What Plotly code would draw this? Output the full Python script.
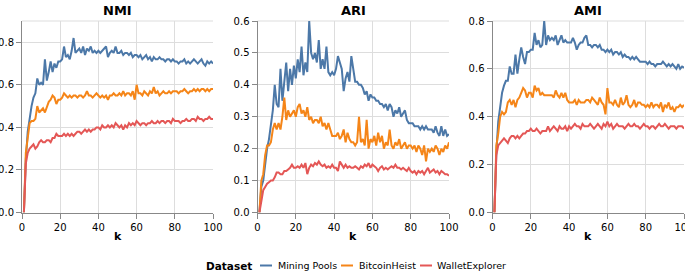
import plotly.graph_objects as go

W, H = 685, 272

k = list(range(1, 101))
datasets = ["Mining Pools", "BitcoinHeist", "WalletExplorer"]
colors = ["#4c78a8", "#f58518", "#e45756"]
metrics = ["NMI", "ARI", "AMI"]

nmi_mining_pools = [
    0.00, 0.25, 0.38, 0.45, 0.50, 0.54, 0.56, 0.63, 0.60, 0.61,
    0.60, 0.72, 0.62, 0.66, 0.71, 0.66, 0.70, 0.68, 0.71, 0.71,
    0.72, 0.78, 0.73, 0.74, 0.72, 0.76, 0.82, 0.75, 0.76, 0.77,
    0.75, 0.78, 0.74, 0.77, 0.76, 0.78, 0.75, 0.76, 0.75, 0.76,
    0.75, 0.76, 0.77, 0.78, 0.73, 0.75, 0.76, 0.75, 0.78, 0.75,
    0.75, 0.76, 0.74, 0.75, 0.75, 0.74, 0.75, 0.73, 0.74, 0.74,
    0.73, 0.74, 0.72, 0.73, 0.74, 0.72, 0.73, 0.71, 0.73, 0.72,
    0.72, 0.73, 0.72, 0.72, 0.71, 0.72, 0.72, 0.71, 0.72, 0.71,
    0.71, 0.70, 0.71, 0.71, 0.72, 0.70, 0.71, 0.70, 0.71, 0.72,
    0.71, 0.70, 0.71, 0.72, 0.70, 0.69, 0.71, 0.70, 0.71, 0.70]
nmi_bitcoinheist = [
    0.00, 0.28, 0.35, 0.42, 0.43, 0.43, 0.44, 0.50, 0.47, 0.48,
    0.49, 0.47, 0.50, 0.52, 0.53, 0.55, 0.54, 0.51, 0.53, 0.53,
    0.54, 0.56, 0.55, 0.54, 0.55, 0.54, 0.55, 0.55, 0.54, 0.55,
    0.55, 0.54, 0.55, 0.57, 0.55, 0.55, 0.54, 0.55, 0.56, 0.55,
    0.54, 0.55, 0.54, 0.55, 0.53, 0.55, 0.55, 0.56, 0.55, 0.55,
    0.56, 0.55, 0.57, 0.55, 0.56, 0.56, 0.55, 0.57, 0.53, 0.60,
    0.56, 0.56, 0.55, 0.57, 0.56, 0.55, 0.57, 0.56, 0.59, 0.56,
    0.57, 0.55, 0.56, 0.57, 0.56, 0.56, 0.57, 0.56, 0.57, 0.57,
    0.57, 0.56, 0.57, 0.57, 0.58, 0.57, 0.56, 0.57, 0.57, 0.58,
    0.57, 0.58, 0.57, 0.58, 0.58, 0.57, 0.58, 0.57, 0.58, 0.58]
nmi_walletexplorer = [
    0.00, 0.23, 0.28, 0.30, 0.31, 0.32, 0.30, 0.31, 0.33, 0.34,
    0.33, 0.33, 0.34, 0.34, 0.33, 0.35, 0.35, 0.37, 0.36, 0.36,
    0.36, 0.37, 0.36, 0.37, 0.36, 0.37, 0.36, 0.37, 0.38, 0.38,
    0.37, 0.38, 0.39, 0.38, 0.39, 0.38, 0.39, 0.39, 0.40, 0.40,
    0.39, 0.41, 0.40, 0.40, 0.41, 0.40, 0.41, 0.40, 0.42, 0.41,
    0.40, 0.41, 0.39, 0.41, 0.40, 0.42, 0.41, 0.42, 0.41, 0.43,
    0.42, 0.41, 0.42, 0.42, 0.41, 0.42, 0.42, 0.43, 0.42, 0.42,
    0.43, 0.42, 0.43, 0.43, 0.42, 0.43, 0.43, 0.42, 0.44, 0.43,
    0.43, 0.43, 0.42, 0.43, 0.43, 0.44, 0.43, 0.43, 0.44, 0.44,
    0.43, 0.45, 0.44, 0.44, 0.43, 0.44, 0.44, 0.45, 0.44, 0.44]

ari_mining_pools = [
    0.00, 0.08, 0.10, 0.15, 0.20, 0.23, 0.27, 0.32, 0.40, 0.34,
    0.33, 0.45, 0.35, 0.40, 0.47, 0.38, 0.45, 0.40, 0.46, 0.42,
    0.48, 0.44, 0.52, 0.43, 0.47, 0.44, 0.60, 0.50, 0.48, 0.50,
    0.47, 0.54, 0.45, 0.48, 0.45, 0.52, 0.44, 0.43, 0.44, 0.43,
    0.45, 0.49, 0.47, 0.45, 0.38, 0.42, 0.44, 0.41, 0.49, 0.45,
    0.41, 0.41, 0.40, 0.40, 0.39, 0.37, 0.38, 0.35, 0.37, 0.36,
    0.36, 0.35, 0.35, 0.34, 0.34, 0.33, 0.34, 0.32, 0.34, 0.33,
    0.30, 0.32, 0.31, 0.33, 0.30, 0.31, 0.32, 0.29, 0.28, 0.28,
    0.28, 0.27, 0.27, 0.27, 0.26, 0.27, 0.26, 0.27, 0.26, 0.26,
    0.26, 0.25, 0.27, 0.25, 0.24, 0.27, 0.24, 0.26, 0.24, 0.245]
ari_bitcoinheist = [
    0.00, 0.10, 0.12, 0.18, 0.21, 0.21, 0.22, 0.26, 0.28, 0.26,
    0.28, 0.26, 0.30, 0.36, 0.29, 0.32, 0.30, 0.31, 0.32, 0.30,
    0.33, 0.34, 0.31, 0.32, 0.30, 0.33, 0.29, 0.30, 0.28, 0.29,
    0.29, 0.28, 0.30, 0.27, 0.28, 0.26, 0.28, 0.26, 0.24, 0.24,
    0.24, 0.25, 0.23, 0.24, 0.26, 0.22, 0.25, 0.23, 0.22, 0.22,
    0.21, 0.22, 0.30, 0.22, 0.23, 0.21, 0.29, 0.20, 0.23, 0.22,
    0.24, 0.21, 0.25, 0.22, 0.24, 0.20, 0.22, 0.21, 0.26, 0.21,
    0.20, 0.22, 0.21, 0.23, 0.20, 0.21, 0.22, 0.20, 0.21, 0.21,
    0.20, 0.21, 0.19, 0.21, 0.20, 0.18, 0.21, 0.16, 0.20, 0.19,
    0.20, 0.19, 0.21, 0.20, 0.18, 0.20, 0.19, 0.21, 0.20, 0.22]
ari_walletexplorer = [
    0.00, 0.04, 0.07, 0.08, 0.09, 0.095, 0.10, 0.10, 0.11, 0.125,
    0.125, 0.12, 0.12, 0.13, 0.13, 0.135, 0.14, 0.15, 0.14, 0.14,
    0.145, 0.14, 0.15, 0.14, 0.155, 0.12, 0.14, 0.15, 0.145, 0.155,
    0.15, 0.16, 0.15, 0.145, 0.15, 0.14, 0.145, 0.14, 0.15, 0.14,
    0.14, 0.13, 0.16, 0.15, 0.14, 0.15, 0.14, 0.145, 0.14, 0.14,
    0.145, 0.14, 0.135, 0.145, 0.14, 0.15, 0.145, 0.155, 0.14, 0.15,
    0.145, 0.14, 0.13, 0.14, 0.145, 0.135, 0.14, 0.135, 0.14, 0.145,
    0.14, 0.15, 0.14, 0.14, 0.135, 0.14, 0.135, 0.13, 0.14, 0.13,
    0.125, 0.13, 0.12, 0.13, 0.125, 0.13, 0.12, 0.13, 0.14, 0.125,
    0.13, 0.135, 0.125, 0.13, 0.12, 0.13, 0.125, 0.12, 0.12, 0.115]

ami_mining_pools = [
    0.00, 0.25, 0.38, 0.45, 0.50, 0.53, 0.55, 0.55, 0.61, 0.58,
    0.58, 0.66, 0.58, 0.64, 0.69, 0.65, 0.62, 0.67, 0.67, 0.68,
    0.68, 0.75, 0.70, 0.72, 0.69, 0.70, 0.80, 0.70, 0.74, 0.72,
    0.73, 0.72, 0.74, 0.70, 0.72, 0.74, 0.71, 0.72, 0.71, 0.71,
    0.71, 0.73, 0.71, 0.68, 0.70, 0.71, 0.71, 0.73, 0.74, 0.70,
    0.70, 0.69, 0.70, 0.70, 0.69, 0.70, 0.68, 0.68, 0.67, 0.68,
    0.67, 0.68, 0.66, 0.67, 0.67, 0.66, 0.67, 0.65, 0.66, 0.65,
    0.65, 0.64, 0.65, 0.64, 0.65, 0.64, 0.63, 0.63, 0.63, 0.63,
    0.62, 0.63, 0.62, 0.62, 0.61, 0.62, 0.62, 0.62, 0.63, 0.62,
    0.61, 0.62, 0.61, 0.62, 0.61, 0.60, 0.62, 0.60, 0.61, 0.605]
ami_bitcoinheist = [
    0.00, 0.28, 0.33, 0.40, 0.42, 0.41, 0.42, 0.46, 0.47, 0.45,
    0.47, 0.44, 0.47, 0.48, 0.50, 0.52, 0.51, 0.48, 0.50, 0.50,
    0.48, 0.53, 0.51, 0.52, 0.49, 0.50, 0.49, 0.49, 0.49, 0.49,
    0.49, 0.48, 0.51, 0.49, 0.48, 0.50, 0.48, 0.50, 0.47, 0.46,
    0.46, 0.46, 0.47, 0.45, 0.47, 0.46, 0.46, 0.46, 0.47, 0.47,
    0.46, 0.48, 0.47, 0.46, 0.45, 0.48, 0.46, 0.45, 0.41, 0.52,
    0.46, 0.46, 0.45, 0.47, 0.45, 0.44, 0.48, 0.45, 0.46, 0.49,
    0.45, 0.44, 0.45, 0.47, 0.44, 0.46, 0.46, 0.45, 0.45, 0.44,
    0.45, 0.44, 0.46, 0.44, 0.45, 0.45, 0.44, 0.46, 0.42, 0.45,
    0.44, 0.46, 0.43, 0.44, 0.42, 0.44, 0.44, 0.45, 0.44, 0.45]
ami_walletexplorer = [
    0.00, 0.24, 0.28, 0.29, 0.30, 0.31, 0.30, 0.29, 0.31, 0.32,
    0.32, 0.31, 0.32, 0.31, 0.32, 0.33, 0.33, 0.34, 0.34, 0.35,
    0.34, 0.34, 0.35, 0.34, 0.33, 0.34, 0.34, 0.34, 0.36, 0.34,
    0.35, 0.36, 0.35, 0.34, 0.36, 0.35, 0.35, 0.36, 0.34, 0.36,
    0.35, 0.36, 0.37, 0.36, 0.36, 0.35, 0.37, 0.36, 0.36, 0.36,
    0.37, 0.36, 0.35, 0.36, 0.37, 0.36, 0.35, 0.37, 0.36, 0.38,
    0.36, 0.37, 0.35, 0.36, 0.37, 0.36, 0.36, 0.36, 0.35, 0.36,
    0.37, 0.36, 0.36, 0.37, 0.36, 0.36, 0.35, 0.36, 0.37, 0.36,
    0.36, 0.35, 0.36, 0.36, 0.35, 0.36, 0.37, 0.36, 0.36, 0.37,
    0.36, 0.35, 0.36, 0.36, 0.36, 0.35, 0.36, 0.36, 0.36, 0.35]

series = {
    "NMI": [nmi_mining_pools, nmi_bitcoinheist, nmi_walletexplorer],
    "ARI": [ari_mining_pools, ari_bitcoinheist, ari_walletexplorer],
    "AMI": [ami_mining_pools, ami_bitcoinheist, ami_walletexplorer],
}
y_max = {"NMI": 0.9, "ARI": 0.6, "AMI": 0.8}
y_step = {"NMI": 0.2, "ARI": 0.1, "AMI": 0.2}
x_ticks = [0, 20, 40, 60, 80, 100]


def px(x):
    return x / W


def py(y):
    return 1 - y / H


# panel pixel extents
panels_x = [(22, 213), (257.5, 449), (492.5, 684)]
top_px, bot_px = 21, 212.5

FONT = "DejaVu Sans"
fig = go.Figure()
annotations = []
shapes = []

for i, m in enumerate(metrics):
    sx = "" if i == 0 else str(i + 1)
    for j, d in enumerate(datasets):
        fig.add_trace(go.Scatter(
            x=k, y=series[m][j], mode="lines", name=d,
            line=dict(color=colors[j], width=2),
            xaxis="x" + sx, yaxis="y" + sx, showlegend=False,
            cliponaxis=True,
        ))
    x0, x1 = panels_x[i]
    n_ticks = int(round(y_max[m] / y_step[m] + 1e-9))
    yt = [round(t * y_step[m], 2) for t in range(n_ticks + 1)]
    common = dict(showgrid=True, gridcolor="#dddddd", gridwidth=1,
                  showline=True, linecolor="#888888", linewidth=1,
                  ticks="outside", ticklen=5, tickcolor="#888888",
                  zeroline=False, automargin=False, ticklabeloverflow="allow",
                  tickfont=dict(family=FONT, size=10, color="#000"))
    fig.update_layout(**{
        "xaxis" + sx: dict(domain=[px(x0), px(x1)], range=[0, 100],
                           tickvals=x_ticks, anchor="y" + sx, **common),
        "yaxis" + sx: dict(domain=[py(bot_px), py(top_px)], range=[0, y_max[m]],
                           tickvals=yt, tickformat=".1f", anchor="x" + sx, **common),
    })
    # top border gridline (light)
    shapes.append(dict(type="line", xref="x" + sx + " domain", yref="y" + sx + " domain",
                       x0=0, x1=1, y0=1, y1=1, line=dict(color="#dddddd", width=1),
                       layer="below"))
    cx = (x0 + x1) / 2
    annotations.append(dict(text="<b>%s</b>" % m, x=px(cx), y=py(10.5), xref="paper",
                            yref="paper", showarrow=False, xanchor="center",
                            yanchor="middle", font=dict(family=FONT, size=13, color="#000")))
    annotations.append(dict(text="<b>k</b>", x=px(cx), y=py(236), xref="paper",
                            yref="paper", showarrow=False, xanchor="center",
                            yanchor="middle", font=dict(family=FONT, size=11, color="#000")))

# legend (manual)
leg_y = 265.5
annotations.append(dict(text="<b>Dataset</b>", x=px(204), y=py(leg_y), xref="paper",
                        yref="paper", showarrow=False, xanchor="left", yanchor="middle",
                        font=dict(family=FONT, size=10.5, color="#000")))
sym_x = [260, 341, 420]
lab_x = [276, 357, 435]
for j, d in enumerate(datasets):
    shapes.append(dict(type="line", xref="paper", yref="paper",
                       x0=px(sym_x[j]), x1=px(sym_x[j] + 12), y0=py(leg_y), y1=py(leg_y),
                       line=dict(color=colors[j], width=2)))
    annotations.append(dict(text=d, x=px(lab_x[j]), y=py(leg_y), xref="paper",
                            yref="paper", showarrow=False, xanchor="left", yanchor="middle",
                            font=dict(family=FONT, size=9.5, color="#000")))

fig.update_layout(width=W, height=H, margin=dict(l=0, r=0, t=0, b=0, autoexpand=False),
                  paper_bgcolor="white", plot_bgcolor="white",
                  annotations=annotations, shapes=shapes,
                  font=dict(family=FONT))

fig.write_html("out.html", config={"displayModeBar": False},
               post_script="document.body.style.margin='0px';"
                           "document.body.style.overflow='hidden';")
